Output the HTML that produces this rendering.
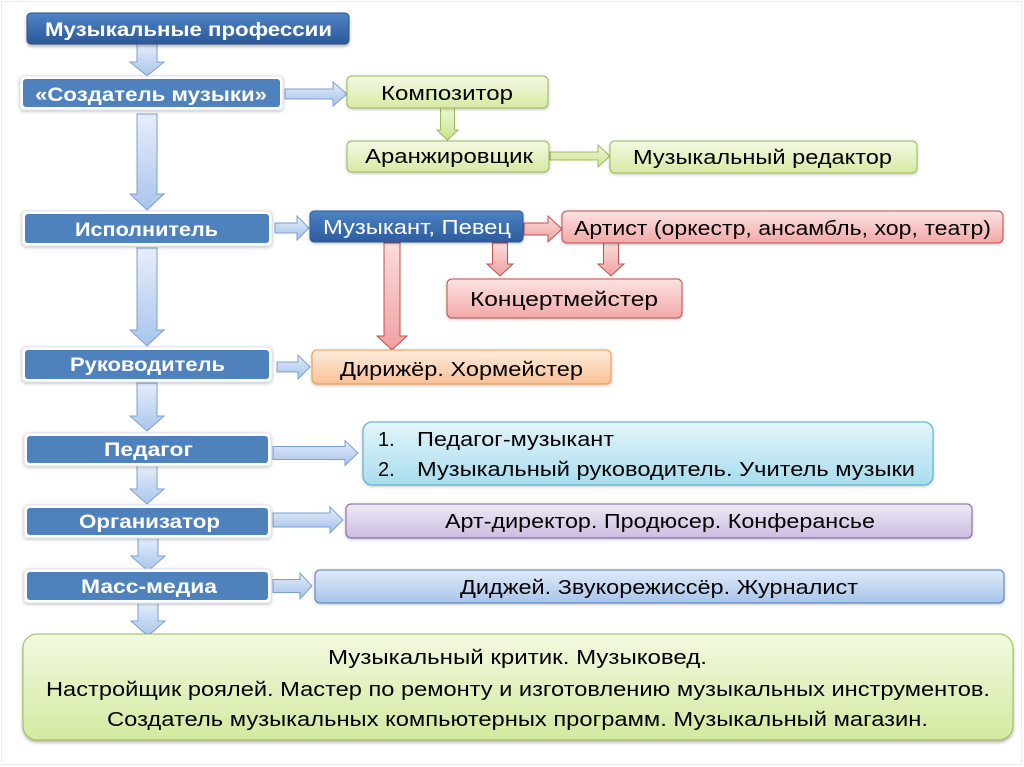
<!DOCTYPE html>
<html><head><meta charset="utf-8">
<style>
html,body{margin:0;padding:0;background:#fff;}
svg{display:block;}
text{font-family:"Liberation Sans",sans-serif;}
</style></head>
<body>
<svg width="1024" height="767" viewBox="0 0 1024 767" xmlns="http://www.w3.org/2000/svg">
<defs>
<linearGradient id="gTitle" x1="0" y1="0" x2="0" y2="1"><stop offset="0" stop-color="#5085c6"/><stop offset="1" stop-color="#2b5899"/></linearGradient>
<linearGradient id="gMus" x1="0" y1="0" x2="0" y2="1"><stop offset="0" stop-color="#4d82c3"/><stop offset="1" stop-color="#2d5c9e"/></linearGradient>
<linearGradient id="gArrB" x1="0" y1="0" x2="0" y2="1"><stop offset="0" stop-color="#e6eefa"/><stop offset="1" stop-color="#a9c5ec"/></linearGradient>
<linearGradient id="gArrBh" x1="0" y1="0" x2="0" y2="1"><stop offset="0" stop-color="#e3ecf9"/><stop offset="1" stop-color="#a6c2ea"/></linearGradient>
<linearGradient id="gArrG" x1="0" y1="0" x2="0" y2="1"><stop offset="0" stop-color="#eef7d6"/><stop offset="1" stop-color="#cbe38f"/></linearGradient>
<linearGradient id="gArrR" x1="0" y1="0" x2="0" y2="1"><stop offset="0" stop-color="#fbdcdc"/><stop offset="1" stop-color="#f0a0a0"/></linearGradient>
<linearGradient id="gGreen" x1="0" y1="0" x2="0" y2="1"><stop offset="0" stop-color="#f3f9e2"/><stop offset="1" stop-color="#d6eaa4"/></linearGradient>
<linearGradient id="gPink" x1="0" y1="0" x2="0" y2="1"><stop offset="0" stop-color="#fce3e3"/><stop offset="1" stop-color="#f2a8a7"/></linearGradient>
<linearGradient id="gOrange" x1="0" y1="0" x2="0" y2="1"><stop offset="0" stop-color="#feecdd"/><stop offset="1" stop-color="#f9c196"/></linearGradient>
<linearGradient id="gCyan" x1="0" y1="0" x2="0" y2="1"><stop offset="0" stop-color="#e3f5fb"/><stop offset="1" stop-color="#a8dcee"/></linearGradient>
<linearGradient id="gPurple" x1="0" y1="0" x2="0" y2="1"><stop offset="0" stop-color="#efe9f5"/><stop offset="1" stop-color="#cbbde0"/></linearGradient>
<linearGradient id="gBlueL" x1="0" y1="0" x2="0" y2="1"><stop offset="0" stop-color="#e0eaf8"/><stop offset="1" stop-color="#a8c4eb"/></linearGradient>
<linearGradient id="gBig" x1="0" y1="0" x2="0" y2="1"><stop offset="0" stop-color="#f2f9e0"/><stop offset="1" stop-color="#d4e9a0"/></linearGradient>
<filter id="sh" x="-5%" y="-20%" width="110%" height="150%"><feDropShadow dx="0" dy="2" stdDeviation="1.5" flood-color="#000" flood-opacity="0.3"/></filter>
<filter id="sh2" x="-5%" y="-20%" width="110%" height="150%"><feDropShadow dx="0" dy="1" stdDeviation="1.5" flood-color="#000" flood-opacity="0.25"/></filter>
</defs>

<!-- faint frame -->
<rect x="1.5" y="1.5" width="1020" height="763" fill="none" stroke="#ececec" stroke-width="1"/>

<!-- ARROWS blue down -->
<g fill="url(#gArrB)" stroke="#7b9fd3" stroke-width="1">
<polygon points="137,44 157,44 157,62 164,62 147,76 130,62 137,62"/>
<polygon points="137,114 157,114 157,194 164,194 147,210 130,194 137,194"/>
<polygon points="137,248 157,248 157,330 164,330 147,346 130,330 137,330"/>
<polygon points="137,383 157,383 157,416 164,416 147,431 130,416 137,416"/>
<polygon points="137,466 157,466 157,489 164,489 147,504 130,489 137,489"/>
<polygon points="138,537 158,537 158,556 165,556 148,571 131,556 138,556"/>
<polygon points="138,603 158,603 158,621 165,621 148,636 131,621 138,621"/>
</g>
<!-- blue right arrows -->
<g fill="url(#gArrBh)" stroke="#7b9fd3" stroke-width="1">
<polygon points="285,89 333,89 333,82 347,94 333,106 333,99 285,99"/>
<polygon points="275,223 297,223 297,216 309,228 297,240 297,233 275,233"/>
<polygon points="277,362 298,362 298,355 310,367 298,379 298,372 277,372"/>
<polygon points="273,446.5 345,446.5 345,440.5 358,453 345,465.5 345,459.5 273,459.5"/>
<polygon points="273,513 330,513 330,507 343,520 330,533 330,527 273,527"/>
<polygon points="273,579.5 300,579.5 300,573 312,586 300,599 300,592.5 273,592.5"/>
</g>
<!-- green arrows -->
<g fill="url(#gArrG)" stroke="#9bbb59" stroke-width="1">
<polygon points="440.5,108 454.5,108 454.5,130 458,130 447.5,140 437,130 440.5,130"/>
<polygon points="550,152 598,152 598,145 610,156 598,167 598,160 550,160"/>
</g>
<!-- red arrows -->
<g fill="url(#gArrR)" stroke="#c0504d" stroke-width="1">
<polygon points="524,223 548,223 548,216 562,229 548,242 548,235 524,235"/>
<polygon points="492.5,243 507.5,243 507.5,264 513,264 500,276 487,264 492.5,264"/>
<polygon points="603.5,243 618.5,243 618.5,264 624,264 611,276 598,264 603.5,264"/>
<polygon points="384,243 400,243 400,336 407,336 392,350 377,336 384,336"/>
</g>

<!-- Title -->
<rect x="27" y="13" width="322" height="31" rx="4" fill="url(#gTitle)" stroke="#2a5290" stroke-width="1" filter="url(#sh)"/>
<text x="45" y="36" font-size="19" font-weight="bold" fill="#fff" textLength="287" lengthAdjust="spacingAndGlyphs">Музыкальные профессии</text>

<!-- Left blue boxes with white frame -->
<g>
<rect x="20" y="76" width="263" height="34" rx="4" fill="#fff" stroke="#dfe3ea" stroke-width="1" filter="url(#sh2)"/>
<rect x="23" y="79" width="257" height="28" rx="3" fill="#4f81bd"/>
<text x="35" y="101" font-size="19" font-weight="bold" fill="#fff" textLength="232" lengthAdjust="spacingAndGlyphs">«Создатель музыки»</text>

<rect x="22" y="211" width="250" height="35" rx="4" fill="#fff" stroke="#dfe3ea" stroke-width="1" filter="url(#sh2)"/>
<rect x="25" y="214" width="244" height="29" rx="3" fill="#4f81bd"/>
<text x="75" y="236" font-size="19" font-weight="bold" fill="#fff" textLength="143" lengthAdjust="spacingAndGlyphs">Исполнитель</text>

<rect x="22" y="347" width="250" height="35" rx="4" fill="#fff" stroke="#dfe3ea" stroke-width="1" filter="url(#sh2)"/>
<rect x="25" y="350" width="244" height="29" rx="3" fill="#4f81bd"/>
<text x="70" y="371" font-size="19" font-weight="bold" fill="#fff" textLength="155" lengthAdjust="spacingAndGlyphs">Руководитель</text>

<rect x="24" y="433" width="247" height="33" rx="4" fill="#fff" stroke="#dfe3ea" stroke-width="1" filter="url(#sh2)"/>
<rect x="27" y="436" width="241" height="27" rx="3" fill="#4f81bd"/>
<text x="104" y="456" font-size="19" font-weight="bold" fill="#fff" textLength="89" lengthAdjust="spacingAndGlyphs">Педагог</text>

<rect x="24" y="505" width="247" height="33" rx="4" fill="#fff" stroke="#dfe3ea" stroke-width="1" filter="url(#sh2)"/>
<rect x="27" y="508" width="241" height="27" rx="3" fill="#4f81bd"/>
<text x="79" y="528" font-size="19" font-weight="bold" fill="#fff" textLength="141" lengthAdjust="spacingAndGlyphs">Организатор</text>

<rect x="24" y="569" width="247" height="34" rx="4" fill="#fff" stroke="#dfe3ea" stroke-width="1" filter="url(#sh2)"/>
<rect x="27" y="572" width="241" height="28" rx="3" fill="#4f81bd"/>
<text x="81" y="593" font-size="19" font-weight="bold" fill="#fff" textLength="136" lengthAdjust="spacingAndGlyphs">Масс-медиа</text>
</g>

<!-- Green boxes -->
<g stroke="#9bbb59" stroke-width="1" fill="url(#gGreen)" filter="url(#sh2)">
<rect x="347" y="76" width="201" height="32" rx="5"/>
<rect x="347" y="141" width="202" height="31" rx="5"/>
<rect x="610" y="141" width="307" height="32" rx="5"/>
</g>
<text x="381" y="100" font-size="20" fill="#000" textLength="132" lengthAdjust="spacingAndGlyphs">Композитор</text>
<text x="365" y="163" font-size="20" fill="#000" textLength="168" lengthAdjust="spacingAndGlyphs">Аранжировщик</text>
<text x="633" y="164" font-size="20" fill="#000" textLength="259" lengthAdjust="spacingAndGlyphs">Музыкальный редактор</text>

<!-- Музыкант box -->
<rect x="310" y="211" width="213" height="31" rx="4" fill="url(#gMus)" stroke="#2c5a9a" stroke-width="1" filter="url(#sh2)"/>
<text x="323" y="234" font-size="20" fill="#fff" textLength="188" lengthAdjust="spacingAndGlyphs">Музыкант, Певец</text>

<!-- Pink boxes -->
<g stroke="#c0504d" stroke-width="1" fill="url(#gPink)" filter="url(#sh2)">
<rect x="562" y="211" width="441" height="32" rx="5"/>
<rect x="447" y="279" width="235" height="39" rx="5"/>
</g>
<text x="574" y="235" font-size="20" fill="#000" textLength="417" lengthAdjust="spacingAndGlyphs">Артист (оркестр, ансамбль, хор, театр)</text>
<text x="470" y="306" font-size="20" fill="#000" textLength="188" lengthAdjust="spacingAndGlyphs">Концертмейстер</text>

<!-- Orange -->
<rect x="312" y="350" width="299" height="34" rx="5" fill="url(#gOrange)" stroke="#f79646" stroke-width="1" filter="url(#sh2)"/>
<text x="340" y="376" font-size="20" fill="#000" textLength="243" lengthAdjust="spacingAndGlyphs">Дирижёр. Хормейстер</text>

<!-- Cyan -->
<rect x="363" y="422" width="570" height="63" rx="9" fill="url(#gCyan)" stroke="#4bacc6" stroke-width="1" filter="url(#sh2)"/>
<text x="378" y="446" font-size="20" fill="#000">1.</text>
<text x="417" y="446" font-size="20" fill="#000" textLength="197" lengthAdjust="spacingAndGlyphs">Педагог-музыкант</text>
<text x="378" y="476" font-size="20" fill="#000">2.</text>
<text x="417" y="476" font-size="20" fill="#000" textLength="498" lengthAdjust="spacingAndGlyphs">Музыкальный руководитель. Учитель музыки</text>

<!-- Purple -->
<rect x="346" y="504" width="626" height="34" rx="5" fill="url(#gPurple)" stroke="#8064a2" stroke-width="1" filter="url(#sh2)"/>
<text x="445" y="528" font-size="20" fill="#000" textLength="430" lengthAdjust="spacingAndGlyphs">Арт-директор. Продюсер. Конферансье</text>

<!-- Blue light -->
<rect x="315" y="570" width="689" height="33" rx="5" fill="url(#gBlueL)" stroke="#4f81bd" stroke-width="1" filter="url(#sh2)"/>
<text x="460" y="594" font-size="20" fill="#000" textLength="398" lengthAdjust="spacingAndGlyphs">Диджей. Звукорежиссёр. Журналист</text>

<!-- Big green -->
<rect x="23" y="634" width="990" height="106" rx="14" fill="url(#gBig)" stroke="#9bbb59" stroke-width="1" filter="url(#sh)"/>
<text x="328" y="664" font-size="20" fill="#000" textLength="379" lengthAdjust="spacingAndGlyphs">Музыкальный критик. Музыковед.</text>
<text x="46" y="696" font-size="20" fill="#000" textLength="944" lengthAdjust="spacingAndGlyphs">Настройщик роялей. Мастер по ремонту и изготовлению музыкальных инструментов.</text>
<text x="107" y="726" font-size="20" fill="#000" textLength="821" lengthAdjust="spacingAndGlyphs">Создатель музыкальных компьютерных программ. Музыкальный магазин.</text>
</svg>
</body></html>
